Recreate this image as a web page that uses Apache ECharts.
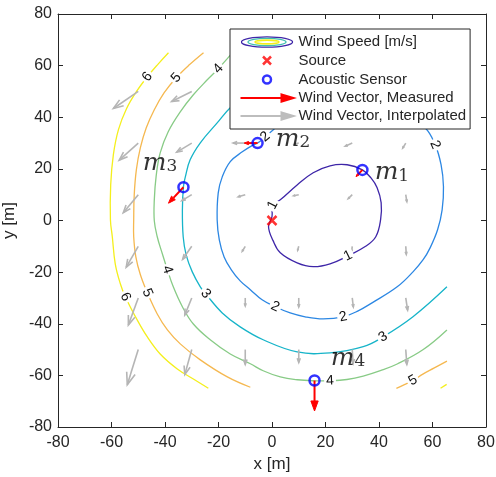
<!DOCTYPE html>
<html>
<head>
<meta charset="utf-8">
<script src="https://cdn.jsdelivr.net/npm/echarts@6/dist/echarts.min.js"></script>
<style>html,body{margin:0;padding:0;background:#fff}#chart{width:496px;height:477px}</style>
</head>
<body>
<div id="chart"></div>
<script>
// ---------------- data ----------------
const contour1 = [[21.7,21.2],[28.1,21.6],[33.8,19.6],[37.0,16.5],[39.3,12.7],[40.8,6.9],[40.6,0.3],[38.8,-6.3],[35.0,-10.0],[28.4,-13.7],[21.7,-16.8],[15.4,-17.9],[9.4,-16.4],[3.1,-12.5],[0.4,-7.8],[-1.3,-2.4],[0.0,1.5],[0.3,6.0],[3.1,8.0],[9.4,13.8],[15.4,18.5]];
const contour2 = [[5,39],[15,42],[28,43.5],[40,42.5],[50,40],[57.2,35.9],[61.0,29.3],[63.2,21.6],[64.1,13.1],[63.6,4.1],[61.9,-3.6],[59.1,-10.6],[56.5,-15.2],[52.7,-19.9],[46.8,-25.7],[37.4,-31.9],[32.2,-35.0],[26.6,-37.3],[19.1,-38.1],[12.4,-37.3],[6.8,-35.8],[1.2,-33.4],[-3.7,-30.7],[-8.1,-26.8],[-11.9,-23.4],[-15.2,-19.1],[-17.9,-14.1],[-19.7,-7.5],[-20.5,0.3],[-20.1,10.7],[-18.6,16.9],[-15.6,22.8],[-11.1,26.6],[-7.0,29.3],[-5.4,30.0],[-2.5,32.4],[0.4,35.1]];
const contour3 = [[20,65],[12,61],[2,56],[-8,50],[-15.6,43.7],[-20.5,37.8],[-26.8,30.1],[-30.6,23.5],[-32.4,16.9],[-33.1,13.1],[-33.5,4.1],[-33.2,-6.3],[-32.1,-13.3],[-29.8,-19.9],[-26.8,-25.7],[-24.8,-28.4],[-18.6,-35.8],[-11.9,-41.2],[-3.3,-46.2],[9.4,-50.9],[21.7,-51.3],[34.1,-48.9],[41.5,-45.1],[52.7,-37.3],[65.4,-25.7]];
const contour4 = [[-14.1,65.8],[-20.1,58.8],[-24.2,54.5],[-29.4,48.7],[-34.3,42.1],[-38.8,34.4],[-41.8,26.2],[-43.3,17.3],[-44.0,8.0],[-44.0,-0.1],[-42.9,-6.3],[-41.0,-12.9],[-39.1,-19.1],[-36.9,-25.7],[-33.5,-33.4],[-29.4,-40.1],[-23.1,-46.2],[-15.6,-51.7],[-8.1,-55.5],[-3.3,-58.2],[3.1,-60.6],[9.5,-61.7],[15.9,-62.1],[21.7,-62.1],[28.0,-61.6],[34.1,-60.3],[40.5,-58.2],[46.8,-55.6],[56.4,-50.1],[65.4,-42.4]];
const contour5a = [[-25.6,65],[-30.9,60.3],[-35.8,55.3],[-40.3,49.5],[-44.0,42.9],[-47.0,35.9],[-49.2,28.2],[-50.7,19.7],[-51.5,10.0],[-51.7,0.3],[-51.7,-6.3],[-50.9,-14.1],[-49.2,-21.0],[-46.6,-28.0],[-42.9,-36.2],[-39.1,-42.4],[-34.3,-47.8],[-26.8,-54.0],[-16.7,-60.6],[-8.1,-64.6]];
const contour5b = [[46.5,-65],[49.5,-63.6],[52.7,-62.0],[56.4,-59.5],[60.5,-57.2],[65.4,-54.5]];
const contour6a = [[-38.7,65],[-42.5,60.7],[-46.6,55.7],[-50.7,49.9],[-54.4,43.3],[-57.4,35.2],[-59.3,25.5],[-60.3,13.8],[-60.4,0.3],[-59.7,-6.3],[-58.6,-16.8],[-56.7,-24.5],[-54.8,-29.6],[-50.4,-38.5],[-46.6,-45.1],[-41.8,-51.7],[-35.4,-57.5],[-29.4,-61.4],[-23.8,-65]];
const contour6b = [[63.0,-65],[65.3,-63.5]];

// contour label anchors: [x, y, level]
const contourLabels = [[0.3,6.0,1],[28.4,-13.7,1],[-2.5,32.4,2],[61.0,29.3,2],[1.2,-33.4,2],[26.6,-37.3,2],[-24.8,-28.4,3],[41.5,-45.1,3],[-20.1,58.8,4],[-39.1,-19.1,4],[21.7,-62.1,4],[-35.8,55.3,5],[-46.6,-28.0,5],[52.7,-62.0,5],[-46.6,55.7,6],[-54.8,-29.6,6]];

// interpolated wind field on a regular grid
const gridX = [-50,-30,-10,10,30,50];
const gridY = [50,30,10,-10,-30,-50];
const windU = [
  [-9.3,-7.5,-5.0,-3.0,-1.5,0.0],
  [-7.1,-5.6,-4.5,-1.5,-2.6,-1.1],
  [-5.6,-3.7,-2.6,-1.9,-1.5,0.4],
  [-4.5,-3.4,-1.1,-0.4,-0.2,0.2],
  [-3.7,-2.6,0.0,0.0,0.4,0.7],
  [-4.1,-2.6,0.0,0.0,0.3,0.4]
];
const windV = [
  [-6.6,-3.9,-2.0,-1.2,-1.5,-2.5],
  [-6.6,-3.5,0.0,-0.4,-1.2,-1.9],
  [-7.0,-2.3,-0.8,-0.4,-1.5,-2.7],
  [-8.1,-5.0,-1.9,-1.5,-1.8,-3.1],
  [-10.5,-6.6,-3.1,-3.5,-3.5,-4.7],
  [-13.6,-9.7,-5.8,-5.0,-5.5,-5.8]
];

// sensors, measured wind, source
const sensors = [[33.8,19.6],[-5.4,30.0],[-33.1,12.9],[15.9,-62.0]];
const sensorNames = ['1','2','3','4'];
const measuredU = [-2.4,-5.0,-5.6,0.0];
const measuredV = [-2.6,0.0,-6.2,-11.8];
const source = [[0,0]];

// ---------------- styles ----------------
const FONT = 'Liberation Sans';
const AX = '#262626';
const levelColors = {1:'#3e26a8',2:'#2c87e3',3:'#16b4c9',4:'#88cb86',5:'#f5b850',6:'#f4ef1c'};
const sensorLabelOffsets = [[1,3],[7,-4],[-52,-24],[5,-22]];

const contourPieces = [
  {level:1,data:contour1,closed:true},{level:2,data:contour2,closed:true},{level:3,data:contour3},{level:4,data:contour4},
  {level:5,data:contour5a},{level:5,data:contour5b},{level:6,data:contour6a},{level:6,data:contour6b}
];

const interpData = [];
gridY.forEach((y,i)=>gridX.forEach((x,j)=>interpData.push([x,y,windU[i][j],windV[i][j]])));
const measData = sensors.map((p,i)=>[p[0],p[1],measuredU[i],measuredV[i]]);
// one custom-series item per contour piece: [first x, first y, piece index]
const contourItems = contourPieces.map((c,i)=>[c.data[0][0], c.data[0][1], i]);

function contourRender(params, api){
  const piece = contourPieces[api.value(2)];
  const pts = piece.data.map(q=>api.coord(q));
  return {type: piece.closed ? 'polygon' : 'polyline',
    shape:{points:pts, smooth:0.4},
    style:{stroke:levelColors[piece.level], lineWidth:1.3, fill:null}};
}

function arrowRender(color, filled, width){
  return function(params, api){
    const x=api.value(0), y=api.value(1), u=api.value(2), v=api.value(3);
    const p0=api.coord([x,y]), p1=api.coord([x+u,y+v]);
    const dx=p1[0]-p0[0], dy=p1[1]-p0[1], L=Math.hypot(dx,dy);
    if(L<0.5) return null;
    const ux=dx/L, uy=dy/L, hl=0.33*L, hw=0.12*L;
    const bx=p1[0]-ux*hl, by=p1[1]-uy*hl;
    const left=[bx-uy*hw, by+ux*hw], right=[bx+uy*hw, by-ux*hw];
    const ch=[];
    if(filled){
      ch.push({type:'line',shape:{x1:p0[0],y1:p0[1],x2:bx,y2:by},style:{stroke:color,lineWidth:width}});
      ch.push({type:'polygon',shape:{points:[p1,left,right]},style:{fill:color,stroke:color,lineWidth:1}});
    } else {
      ch.push({type:'line',shape:{x1:p0[0],y1:p0[1],x2:p1[0],y2:p1[1]},style:{stroke:color,lineWidth:width}});
      ch.push({type:'polyline',shape:{points:[left,p1,right]},style:{stroke:color,lineWidth:width,fill:null}});
    }
    return {type:'group',children:ch};
  };
}

function labelRender(params, api){
  const x=api.value(0), y=api.value(1), lvl=api.value(2);
  const p=api.coord([x,y]);
  let best=Infinity, ang=0;
  contourPieces.filter(c=>c.level===lvl).forEach(c=>{
    const pts=c.data.map(q=>api.coord(q));
    const n=pts.length;
    pts.forEach((q,i)=>{
      const d=Math.hypot(q[0]-p[0],q[1]-p[1]);
      if(d<best){
        best=d;
        const a = c.closed ? pts[(i-1+n)%n] : pts[Math.max(0,i-1)];
        const b = c.closed ? pts[(i+1)%n] : pts[Math.min(n-1,i+1)];
        ang=Math.atan2(-(b[1]-a[1]), b[0]-a[0]);
      }
    });
  });
  if(ang>Math.PI/2) ang-=Math.PI;
  if(ang<-Math.PI/2) ang+=Math.PI;
  return {type:'text', x:p[0], y:p[1], rotation:ang,
    style:{text:String(lvl), fill:'#111', fontSize:14, fontFamily:FONT, align:'center', verticalAlign:'middle', backgroundColor:'#fff', padding:[0,2]}};
}

const ellipseSvg = '<svg xmlns="http://www.w3.org/2000/svg" width="53" height="12" viewBox="0 0 53 12">'+
  '<ellipse cx="26.5" cy="6" rx="25.6" ry="5.2" fill="none" stroke="#3e26a8" stroke-width="1.3"/>'+
  '<ellipse cx="26.5" cy="6" rx="19" ry="3.6" fill="none" stroke="#3fbfb0" stroke-width="1.3"/>'+
  '<ellipse cx="26.5" cy="6" rx="12" ry="1.9" fill="none" stroke="#f4ef1c" stroke-width="1.6"/></svg>';
const ellipseIcon = 'image://data:image/svg+xml;charset=utf-8,'+encodeURIComponent(ellipseSvg);

const series = [];
series.push({type:'custom', name:'Wind Speed [m/s]', data:contourItems, encode:{x:0,y:1}, renderItem:contourRender, z:2, silent:true, itemStyle:{color:levelColors[1]}});
series.push({type:'custom', name:'Wind Vector, Interpolated', data:interpData, encode:{x:0,y:1}, renderItem:arrowRender('#b5b5b5',false,1.6), z:3, silent:true});
series.push({type:'custom', name:'Wind Vector, Measured', data:measData, encode:{x:0,y:1}, renderItem:arrowRender('#ff0000',true,2), z:3, silent:true});
series.push({type:'custom', name:'contour labels', data:contourLabels, encode:{x:0,y:1}, renderItem:labelRender, z:4, silent:true});
series.push({type:'scatter', name:'Source', data:source, symbol:'path://M0 0L10 10M0 10L10 0', symbolSize:9,
  itemStyle:{color:'rgba(0,0,0,0)', borderColor:'#ff0000', borderWidth:2.5}, z:5, silent:true});
series.push({type:'scatter', name:'Acoustic Sensor', symbol:'circle', symbolSize:10, z:6, silent:true,
  itemStyle:{color:'rgba(0,0,0,0)', borderColor:'#0000ff', borderWidth:2.5},
  data: sensors.map((p,i)=>({value:p, label:{offset:sensorLabelOffsets[i], formatter:'{m|m}{s|'+sensorNames[i]+'}'}})),
  label:{show:true, position:'right', distance:5,
    rich:{m:{fontFamily:'DejaVu Serif', fontStyle:'italic', fontSize:25, lineHeight:24, color:'#000'},
          s:{fontFamily:'DejaVu Serif', fontSize:17, lineHeight:4, verticalAlign:'bottom', color:'#000'}}}
});

function axisCommon(){
  return {type:'value', min:-80, max:80, interval:20, splitLine:{show:false},
    axisLine:{show:true, onZero:false, lineStyle:{color:AX, width:1}},
    axisTick:{show:true, inside:true, length:5, lineStyle:{color:AX}}};
}

const option = {
  animation:false,
  grid:{left:58, right:10, top:14, bottom:50, containLabel:false, outerBoundsMode:'none'},
  xAxis:[
    Object.assign(axisCommon(), {position:'bottom', name:'x [m]', nameLocation:'middle', nameGap:24,
      nameTextStyle:{fontFamily:FONT, fontSize:17, color:AX},
      axisLabel:{fontFamily:FONT, fontSize:16, color:AX, margin:8}}),
    Object.assign(axisCommon(), {position:'top', axisLabel:{show:false}})
  ],
  yAxis:[
    Object.assign(axisCommon(), {position:'left', name:'y [m]', nameLocation:'middle', nameGap:38,
      nameTextStyle:{fontFamily:FONT, fontSize:17, color:AX},
      axisLabel:{fontFamily:FONT, fontSize:16, color:AX, margin:6}}),
    Object.assign(axisCommon(), {position:'right', axisLabel:{show:false}})
  ],
  legend:{
    show:true, orient:'vertical', left:230, top:29, padding:[5,4,5,8], itemGap:2, itemWidth:53, itemHeight:12,
    backgroundColor:'#fff', borderColor:AX, borderWidth:1, z:10, selectedMode:false,
    textStyle:{fontFamily:FONT, fontSize:15, color:AX, lineHeight:16},
    data:[
      {name:'Wind Speed [m/s]', icon:ellipseIcon},
      {name:'Source', icon:'path://M0 0M53 12M22.5 2L30.5 10M22.5 10L30.5 2', itemStyle:{color:'none', borderColor:'#ff0000', borderWidth:2.5}},
      {name:'Acoustic Sensor', icon:'path://M0 0M53 12M30.5 6A4 4 0 1 1 22.5 6A4 4 0 1 1 30.5 6Z', itemStyle:{color:'none', borderColor:'#0000ff', borderWidth:2.5}},
      {name:'Wind Vector, Measured', icon:'path://M0 0M53 12M0 6L41 6M41 2.4L53 6L41 9.6Z', itemStyle:{color:'#ff0000', borderColor:'#ff0000', borderWidth:2}},
      {name:'Wind Vector, Interpolated', icon:'path://M0 0M53 12M0 6L41 6M41 2.4L53 6L41 9.6Z', itemStyle:{color:'#bdbdbd', borderColor:'#bdbdbd', borderWidth:2}}
    ]
  },
  series: series
};

const chart = echarts.init(document.getElementById('chart'), null, {renderer:'canvas'});
chart.setOption(option);
</script>
</body>
</html>
